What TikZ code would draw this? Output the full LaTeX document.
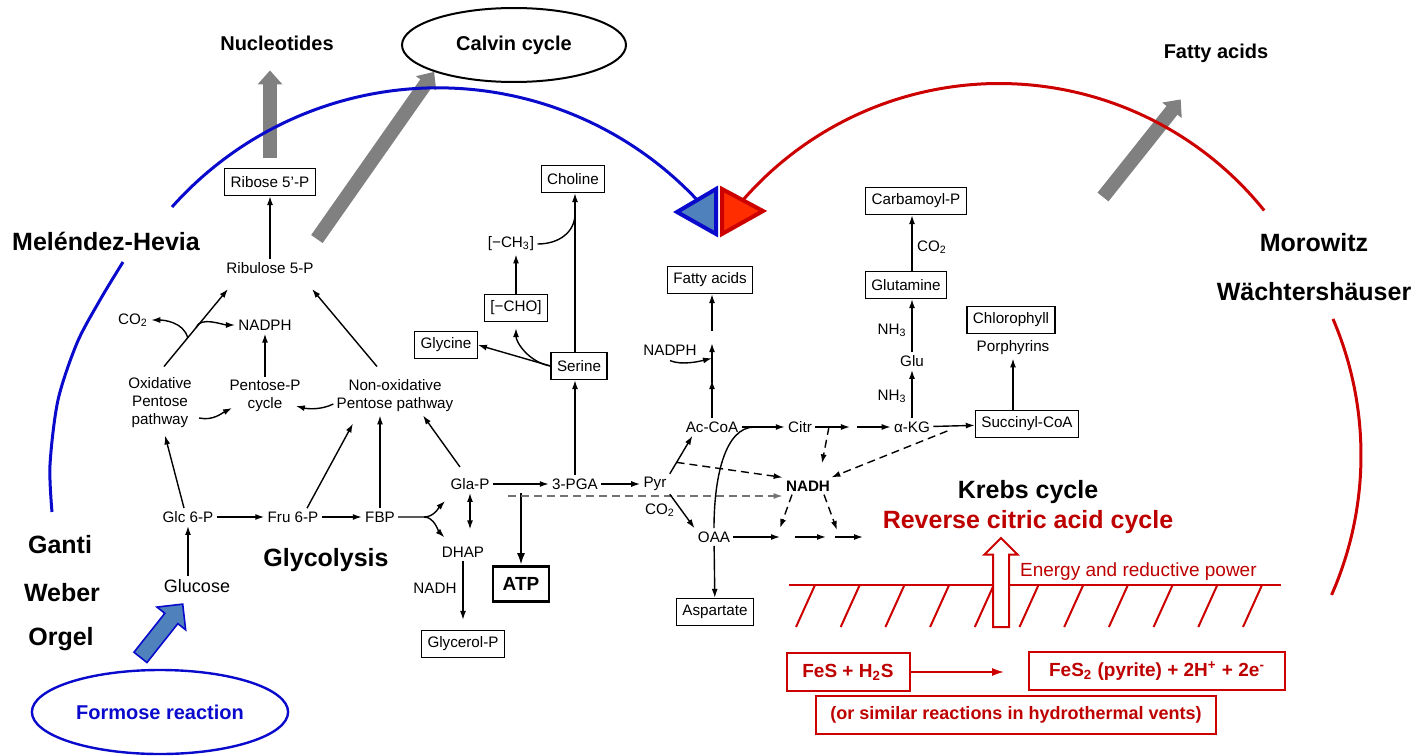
\documentclass[tikz,border=0pt]{standalone}
\usepackage{fontspec}
\setmainfont{Liberation Sans}
\usepackage{tikz}
\usetikzlibrary{arrows.meta,positioning,calc,shapes.geometric,shapes.arrows}
\definecolor{arcblue}{RGB}{10,10,205}
\definecolor{triblue}{RGB}{79,129,189}
\definecolor{arcred}{RGB}{205,0,0}
\definecolor{trired}{RGB}{255,45,0}
\definecolor{txtred}{RGB}{190,0,0}
\definecolor{fatgray}{RGB}{128,128,128}

\begin{document}
\begin{tikzpicture}[x=0.5pt,y=-0.5pt,>={Latex[length=4.5pt,width=3pt]},
   met/.style={font=\fontsize{7.6}{9}\selectfont,inner sep=1.5pt,align=center},
   box/.style={met,draw,line width=0.6pt,inner xsep=3pt,inner ysep=3pt,minimum height=13.5pt},
   big/.style={font=\fontsize{12.5}{14}\selectfont\bfseries},
   mid/.style={font=\fontsize{10}{12}\selectfont\bfseries},
   rx/.style={->,line width=0.7pt},
   dx/.style={->,line width=0.7pt,dash pattern=on 4pt off 2.5pt},
   fat/.style={line width=7pt,fatgray,-{Triangle[length=7pt,width=12pt]}},
   arcb/.style={arcblue,line width=1.5pt},
   arcr/.style={arcred,line width=1.5pt},
   redbox/.style={draw=arcred,line width=1pt,text=txtred,minimum height=19pt,
     font=\fontsize{9.5}{11}\selectfont\bfseries}]
\useasboundingbox (0,0) rectangle (1413,755);

\node[mid] (nucl) at (277,43) {Nucleotides};
\node[mid,draw,ellipse,line width=1pt,minimum width=112pt,minimum height=37pt] (calvin) at (514,45) {Calvin cycle};
\node[mid] (fattop) at (1216,53) {Fatty acids};
\node[big] (mel) at (106,241) {Meléndez-Hevia};
\node[big] (moro) at (1314,243) {Morowitz};
\node[big] (waech) at (1314,292) {Wächtershäuser};
\node[big] (ganti) at (60,545) {Ganti};
\node[big] (weber) at (62,593) {Weber};
\node[big] (orgel) at (61,639) {Orgel};
\node[big] (glyco) at (326,560) {Glycolysis};
\node[mid,draw=arcblue,text=arcblue,ellipse,line width=1.2pt,minimum width=112pt,minimum height=42pt] (formose) at (160,712) {Formose reaction};
\node[big] (krebs) at (1028,492) {Krebs cycle};
\node[big,text=txtred] (rcac) at (1028,522) {Reverse citric acid cycle};

\node[box] (ribose) at (270,182) {Ribose 5'-P};
\node[met] (ribul) at (270,268) {Ribulose 5-P};
\node[met] (co2a) at (133,320) {CO\textsubscript{2}};
\node[met] (nadpha) at (265,325) {NADPH};
\node[met] (oxpp) at (160,403) {Oxidative\\Pentose\\pathway};
\node[met] (ppc) at (265,396) {Pentose-P\\cycle};
\node[met] (nonox) at (395,396) {Non-oxidative\\Pentose pathway};
\node[met] (glc) at (188,517) {Glc 6-P};
\node[met] (fru) at (293,517) {Fru 6-P};
\node[met] (fbp) at (380,517) {FBP};
\node[met,font=\fontsize{9}{10}\selectfont] (glucose) at (197,586) {Glucose};
\node[met] (glap) at (470,484) {Gla-P};
\node[met] (dhap) at (463,552) {DHAP};
\node[met] (nadhl) at (435,588) {NADH};
\node[box] (glyc) at (463,644) {Glycerol-P};
\node[met] (pga) at (575,484) {3-PGA};
\node[box,font=\fontsize{9.5}{11}\selectfont\bfseries,line width=1.3pt,minimum width=28pt,minimum height=17.5pt] (atp) at (521,584) {ATP};
\node[met] (pyr) at (655,484) {Pyr};
\node[met] (co2b) at (660,510) {CO\textsubscript{2}};
\node[met] (oaa) at (714,537) {OAA};
\node[box] (asp) at (715,612) {Aspartate};
\node[met] (acoa) at (712,427) {Ac-CoA};
\node[met] (citr) at (800,427) {Citr};
\node[met] (akg) at (912,427) {α-KG};
\node[box] (succ) at (1027,424) {Succinyl-CoA};
\node[met,font=\fontsize{7.6}{9}\selectfont\bfseries] (nadh) at (808,486) {NADH};
\node[box] (fatty) at (710,280) {Fatty acids};
\node[met] (nadphb) at (670,350) {NADPH};
\node[box] (glut) at (906,285) {Glutamine};
\node[box] (carb) at (916,201) {Carbamoyl-P};
\node[met] (co2c) at (932,247) {CO\textsubscript{2}};
\node[met] (nh3a) at (892,330) {NH\textsubscript{3}};
\node[met] (glu) at (912,361) {Glu};
\node[met] (nh3b) at (892,396) {NH\textsubscript{3}};
\node[box] (chl) at (1011,320) {Chlorophyll};
\node[met] (por) at (1013,348) {Porphyrins};
\node[box] (choline) at (573,179) {Choline};
\node[met] (ch3) at (511,244) {[−CH\textsubscript{3}]};
\node[box] (cho) at (516,308) {[−CHO]};
\node[box] (glycine) at (446,345) {Glycine};
\node[box] (serine) at (579,366) {Serine};

\draw[fat,shorten <=5pt,shorten >=6.5pt] (ribose.north) -- (ribose.north |- nucl.south);
\draw[fat] ([yshift=10pt]ribul.north east) -- (calvin.south west);
\coordinate (ftail) at (1103,197);
\draw[fat] (ftail) -- ([xshift=12pt,yshift=-15pt]fattop.south west);

\draw[arcb] plot[smooth] coordinates {(52,512) (50,465) (58,400) (77,343) (100,300) (123,262)};
\draw[arcb] (172,207) arc[start angle=138.3,end angle=43.3,radius=178pt];
\draw[arcr] (743,200) arc[start angle=138.9,end angle=38.8,radius=170pt];
\draw[arcr] (1333,319) arc[start angle=23.2,end angle=-23.8,radius=173pt];
\filldraw[draw=arcblue,fill=triblue,line width=2pt] (677,212) -- (716,189) -- (716,234) -- cycle;
\filldraw[draw=arcred,fill=trired,line width=2pt] (722,189) -- (763,211) -- (722,234) -- cycle;

\node[single arrow,draw=arcblue,fill=triblue,line width=0.8pt,rotate=51.6,minimum height=34pt,
  inner xsep=0pt,inner ysep=3.75pt,single arrow head extend=5pt] (farrow) at (159,634) {};

\draw[rx] (ribul) -- (ribose);
\draw[rx] ([xshift=2pt,yshift=4pt]oxpp.north) -- coordinate[pos=0.37] (brc) coordinate[pos=0.5] (brn)
  ([xshift=-21pt,yshift=-6pt]ribul.south);
\draw[rx] (brc) .. controls +(-4,-16) and +(12,0) .. (co2a.east);
\draw[rx] (brn) .. controls +(4,-12) and +(-12,0) .. (nadpha.west);
\draw[rx] (ppc) -- (nadpha);
\draw[rx] ([xshift=2pt,yshift=-7.5pt]oxpp.east) .. controls +(14,3) and +(-10,5) .. ([xshift=3pt,yshift=-6pt]ppc.west);
\draw[rx] ([yshift=-4pt]nonox.west) .. controls +(-12,6) and +(12,3) .. ([xshift=-4pt,yshift=-5pt]ppc.east);
\draw[rx] ([xshift=-9pt,yshift=5pt]nonox.north) -- ([xshift=21pt,yshift=-6pt]ribul.south);
\draw[rx] ([xshift=-2pt]glc.north) -- ([xshift=2.5pt,yshift=-2pt]oxpp.south);
\draw[rx] (glucose.north -| glc.south) -- (glc.south);
\draw[rx] (glc) -- (fru);
\draw[rx] (fru) -- (fbp);
\draw[rx] ([xshift=7pt]fru.north) -- ([xshift=-21pt,yshift=-4pt]nonox.south);
\draw[rx] (fbp.north) -- (fbp.north |- nonox.south);
\draw[rx] ([xshift=-5pt,yshift=4pt]glap.north) -- ([xshift=14pt]nonox.south);
\coordinate (fk) at ([xshift=13pt]fbp.east);
\draw[rx] (fbp.east) -- (fk) .. controls +(10,0) and +(-6,6) .. ([xshift=-1pt,yshift=-4pt]glap.south west);
\draw[rx] (fk) .. controls +(10,0) and +(-6,-6) .. ([xshift=3pt,yshift=3pt]dhap.north west);
\draw[rx,<->,shorten >=7pt] (glap.south) -- (glap.south |- dhap.north);
\draw[rx,shorten >=5pt] (dhap.south) -- (glyc.north);
\draw[rx] (glap) -- (pga);
\draw[rx] (pga) -- (pyr);
\draw[rx] (pga.north) -- (pga.north |- serine.south);
\draw[rx] (pga.north |- serine.north) -- coordinate[pos=0.87] (jc) (pga.north |- choline.south);
\draw[line width=0.7pt] (ch3.east) .. controls +(22,0) and +(0,18) .. (jc);
\draw[rx] (cho.north) -- (cho.north |- ch3.south);
\draw[rx] (serine.west) -- (glycine.east);
\draw[rx] (serine.west) .. controls +(-22,-4) and +(0,14) .. ([yshift=-3pt]cho.south);
\draw[line width=1.3pt,-{Latex[length=6pt,width=4pt]}] (atp.north |- glap.south) -- (atp.north);

\coordinate (dst) at (508,496);
\draw[dx,black!55] (dst) -- (dst -| nadh.west);
\draw[rx] (pyr.north east) -- coordinate[pos=0.3] (pyac) ([xshift=5pt]acoa.south west);
\draw[rx] (pyr.south east) -- (oaa.north west);
\draw[dx] (pyac) -- (nadh.north west);
\draw[rx] (acoa) -- coordinate[pos=0.3] (jn) (citr);
\draw[line width=0.7pt] (oaa.north) .. controls +(0,-50) and +(-30,0) .. (jn);
\coordinate (cm) at ($(citr.east)!0.5!(akg.west)$);
\draw[rx] (citr.east) -- ([xshift=-1.5pt]cm);
\draw[rx] ([xshift=2pt]cm) -- (akg.west);
\draw[rx] (akg) -- (succ);
\draw[rx] (akg.north) -- (glu.south);
\draw[rx] (glu.north) -- (glu.north |- glut.south);
\draw[rx] (glu.north |- glut.north) -- (glu.north |- carb.south);
\draw[rx] (por.south |- succ.north) -- (por.south);
\draw[dx] ([xshift=-12pt]cm) -- ([xshift=7pt,yshift=7pt]nadh.north);
\draw[dx] ([xshift=7pt,yshift=-2pt]akg.east) -- ([xshift=-1pt]nadh.north east);
\coordinate (k1) at (780,537);
\coordinate (k2) at (826,537);
\coordinate (k3) at (863,537);
\draw[rx] (oaa) -- (k1);
\draw[rx] ([xshift=7.5pt]k1) -- (k2);
\draw[rx] ([xshift=4.5pt]k2) -- (k3);
\draw[dx] ([xshift=-8pt]nadh.south) -- ([yshift=4.5pt]k1);
\draw[dx] ([xshift=8pt]nadh.south) -- ([xshift=5.5pt,yshift=3.5pt]k2);
\draw[rx] (oaa) -- (asp);
\coordinate (f1) at ([yshift=19pt]acoa.north);
\coordinate (f2) at ([yshift=37.5pt]acoa.north);
\draw[rx] (acoa.north) -- (f1);
\draw[rx] ([yshift=-1.5pt]f1) -- (f2);
\draw[rx] ([yshift=6pt]f2) -- (f2 |- fatty.south);
\draw[rx] ([yshift=-1pt]nadphb.south) .. controls +(12,5) and +(-12,3) .. ([yshift=-7.5pt]f2);

\draw[arcred,line width=1.2pt] (789,585) -- (1281,585);
\foreach \i in {0,...,10}
  \draw[arcred,line width=1pt] ({796+44.7*\i},627) -- ++(19,-42);
\node[single arrow,draw=arcred,fill=white,line width=1pt,rotate=90,minimum height=44.5pt,
  inner xsep=0pt,inner ysep=3.5pt,single arrow head extend=4.25pt,single arrow tip angle=90] (uparrow) at (1001,586.5) {};
\node[text=txtred,font=\fontsize{9.5}{11}\selectfont,anchor=west] (energy) at (1013,572) {Energy and reductive power};
\node[redbox,minimum width=61.5pt] (fes) at (848,672) {FeS + H\textsubscript{2}S};
\node[redbox,minimum width=128pt] (fes2) at (1157,671) {FeS\textsubscript{2} (pyrite) + 2H\textsuperscript{+} + 2e\textsuperscript{-}};
\node[redbox,minimum width=200pt,font=\fontsize{9}{11}\selectfont\bfseries] (vents) at (1016,715) {(or similar reactions in hydrothermal vents)};
\draw[arcred,line width=0.8pt,-{Latex[length=6pt,width=4pt]},shorten >=12pt] (fes.east) -- (fes.east -| fes2.west);
\end{tikzpicture}
\end{document}
